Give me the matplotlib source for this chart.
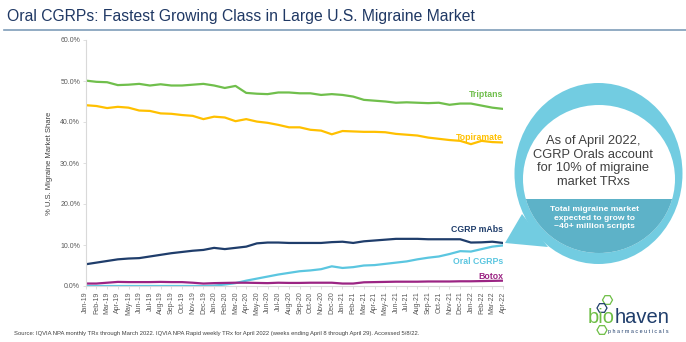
import numpy as np
import pandas as pd
import matplotlib
matplotlib.use('Agg')
import matplotlib.pyplot as plt
from matplotlib.patches import Ellipse, Polygon, Rectangle, RegularPolygon

plt.rcParams['font.family'] = ['Liberation Sans', 'DejaVu Sans']

months = list(pd.date_range('2019-01-01', '2022-04-01', freq='MS').strftime('%b-%y'))

triptans = [50.1, 49.8, 49.7, 49.0, 49.1, 49.3, 48.9, 49.2, 48.9, 48.9,
            49.1, 49.3, 48.9, 48.3, 48.8, 47.1, 46.9, 46.8, 47.2, 47.2,
            47.0, 47.0, 46.6, 46.8, 46.6, 46.2, 45.4, 45.2, 45.0, 44.7,
            44.8, 44.7, 44.6, 44.7, 44.2, 44.5, 44.5, 44.0, 43.5, 43.2]
topiramate = [44.1, 43.9, 43.4, 43.7, 43.5, 42.8, 42.7, 42.1, 42.0, 41.7,
              41.5, 40.7, 41.3, 41.1, 40.2, 40.7, 40.1, 39.8, 39.3, 38.7,
              38.7, 38.1, 37.9, 37.0, 37.8, 37.7, 37.6, 37.6, 37.5, 37.1,
              36.9, 36.7, 36.2, 35.9, 35.6, 35.4, 34.6, 35.4, 35.1, 35.0]
cgrp_mabs = [5.3, 5.7, 6.1, 6.5, 6.7, 6.8, 7.2, 7.6, 8.0, 8.3,
             8.6, 8.8, 9.3, 9.0, 9.3, 9.6, 10.4, 10.6, 10.6, 10.5,
             10.5, 10.5, 10.5, 10.7, 10.8, 10.5, 10.9, 11.1, 11.3, 11.5,
             11.5, 11.5, 11.4, 11.4, 11.4, 11.4, 10.6, 10.65, 10.8, 10.5]
oral_cgrps = [0.0, 0.0, 0.0, 0.0, 0.0, 0.0, 0.0, 0.0, 0.0, 0.0,
              0.0, 0.0, 0.1, 0.35, 0.7, 1.3, 1.8, 2.3, 2.8, 3.2,
              3.6, 3.8, 4.1, 4.8, 4.4, 4.6, 5.0, 5.1, 5.4, 5.7,
              6.0, 6.5, 6.9, 7.2, 7.8, 8.5, 8.4, 9.0, 9.6, 9.9]
botox = [0.6, 0.6, 0.8, 1.0, 0.95, 0.95, 0.95, 1.0, 0.95, 0.95,
         0.8, 0.6, 0.7, 0.75, 0.8, 0.8, 0.75, 0.7, 0.8, 0.75,
         0.75, 0.8, 0.8, 0.8, 0.6, 0.6, 0.9, 0.95, 1.0, 1.05,
         1.05, 1.05, 1.1, 1.1, 1.1, 1.15, 1.15, 1.2, 1.25, 1.3]

series = [
    ('Triptans', triptans, '#70BF4C'),
    ('Topiramate', topiramate, '#FFC000'),
    ('CGRP mAbs', cgrp_mabs, '#1F3D6B'),
    ('Oral CGRPs', oral_cgrps, '#5BC6E0'),
    ('Botox', botox, '#9B2483'),
]
# label y positions (in % units) for the right-hand labels
label_y = {'Triptans': 46.6, 'Topiramate': 36.3, 'CGRP mAbs': 13.9,
           'Oral CGRPs': 6.0, 'Botox': 2.3}

W, H = 686, 342
fig = plt.figure(figsize=(W / 100, H / 100), dpi=100)

ax = fig.add_axes([85.7 / W, (H - 286) / H, (503 - 85.7) / W, 246 / H])
x = np.arange(len(months))
for name, vals, col in series:
    ax.plot(x, vals, color=col, lw=1.6, solid_capstyle='round')
    ax.text(len(months) - 1, label_y[name], name, color=col, fontsize=6.3,
            fontweight='bold', ha='right', va='center')

ax.set_xlim(0, len(months) - 1)
ax.set_ylim(0, 60)
ax.set_yticks(np.arange(0, 61, 10))
ax.set_yticklabels([f'{v:.1f}%' for v in np.arange(0, 61, 10)])
ax.set_xticks(x)
ax.set_xticklabels(months, rotation=90)
ax.tick_params(axis='both', labelsize=5, colors='#D9D9D9', labelcolor='#595959',
               length=2.5, width=0.6, pad=1.5)
for s in ['top', 'right']:
    ax.spines[s].set_visible(False)
for s in ['left', 'bottom']:
    ax.spines[s].set_color('#D9D9D9')
    ax.spines[s].set_linewidth(0.8)
ax.set_ylabel('% U.S. Migraine Market Share', fontsize=5.5, color='#404040', labelpad=5)
ax.patch.set_alpha(0)

# overlay in pixel coordinates for title, callout, logo, footnote
ov = fig.add_axes([0, 0, 1, 1], zorder=5)
ov.set_xlim(0, W)
ov.set_ylim(H, 0)
ov.axis('off')
ov.patch.set_alpha(0)

ov.text(7, 16, 'Oral CGRPs: Fastest Growing Class in Large U.S. Migraine Market',
        fontsize=11.3, color='#1F3864', va='center', ha='left')
ov.plot([4, W], [30, 30], color='#7F9DB9', lw=1.2)

ring = '#72CCE1'
band = '#5DB2C8'
ov.add_patch(Polygon([(505, 243), (522, 214), (548, 247)], closed=True,
                     facecolor=ring, edgecolor='none'))
ov.add_patch(Ellipse((598.5, 173.5), 168, 181, facecolor=ring, edgecolor='none'))
inner = Ellipse((599, 179), 152, 148, facecolor='white', edgecolor='none')
ov.add_patch(inner)
bnd = Rectangle((520, 199), 160, 60, facecolor=band, edgecolor='none')
ov.add_patch(bnd)
bnd.set_clip_path(inner)

ov.text(593, 161.5, 'As of April 2022,\nCGRP Orals account\nfor 10% of migraine\nmarket TRxs',
        fontsize=9.3, color='#404040', ha='center', va='center', linespacing=1.15)
ov.text(594, 218, 'Total migraine market\nexpected to grow to\n~40+ million scripts',
        fontsize=6.1, color='white', fontweight='bold', ha='center', va='center',
        linespacing=1.25)

# logo
t1 = ov.text(588, 323, 'bio', fontsize=14.5, color='#6DBE45', ha='left', va='baseline')
ov.annotate('haven', xy=(1, 0), xycoords=t1, fontsize=14.5, color='#1F3D6B',
            ha='left', va='bottom')
ov.text(608, 331, 'p h a r m a c e u t i c a l s', fontsize=3.9, color='#1F3D6B',
        ha='left', va='center')
for cx, cy, c in [(607.5, 300, '#6DBE45'), (602, 308, '#1F3D6B'), (602, 330, '#6DBE45')]:
    ov.add_patch(RegularPolygon((cx, cy), 6, radius=5, orientation=np.pi / 6,
                                facecolor='none', edgecolor=c, lw=0.9))

ov.text(14, 334, 'Source: IQVIA NPA monthly TRx through March 2022. IQVIA NPA Rapid weekly TRx '
        'for April 2022 (weeks ending April 8 through April 29). Accessed 5/8/22.',
        fontsize=4.2, color='#404040', ha='left', va='center')

fig.savefig('out.png', dpi=100)
